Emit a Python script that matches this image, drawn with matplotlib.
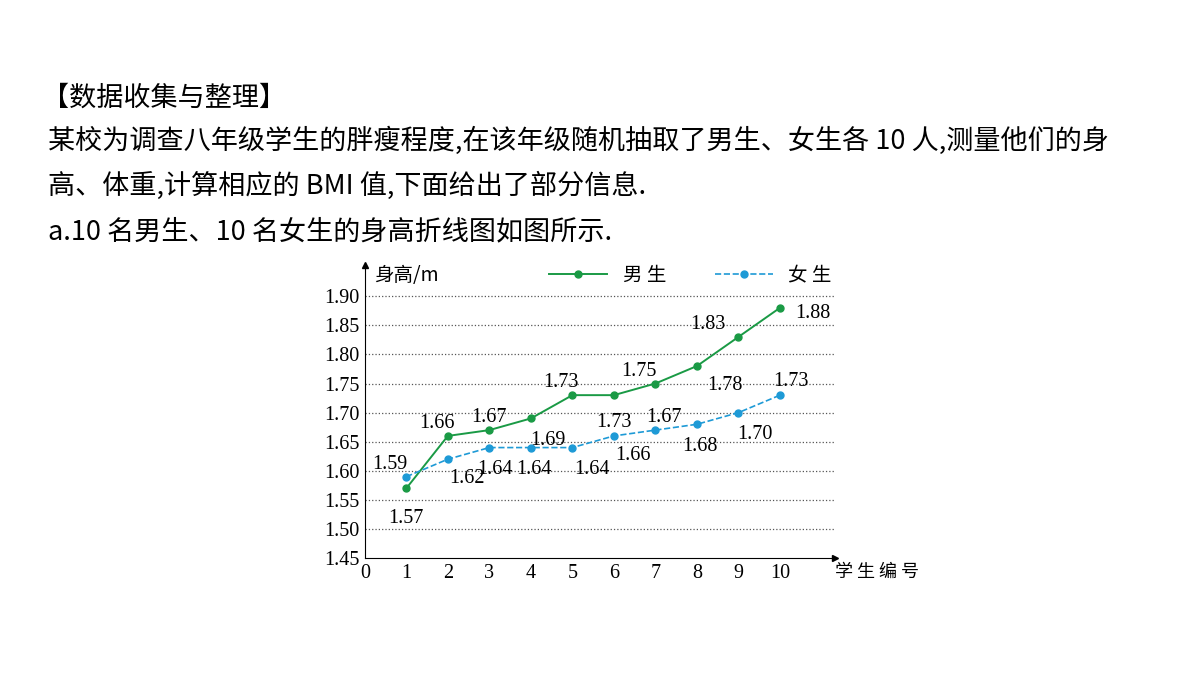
import matplotlib.pyplot as plt

plt.rcParams['font.family'] = ['Noto Sans CJK SC', 'DejaVu Sans']

students = list(range(1, 11))
boys = [1.57, 1.66, 1.67, 1.69, 1.73, 1.73, 1.75, 1.78, 1.83, 1.88]
girls = [1.59, 1.62, 1.64, 1.64, 1.64, 1.66, 1.67, 1.68, 1.70, 1.73]
yticks = [1.45, 1.50, 1.55, 1.60, 1.65, 1.70, 1.75, 1.80, 1.85, 1.90]

# label offsets (points) for each value
boy_off = [(0, -22), (-8, 9), (0, 9), (12, -16), (-8, 9), (0, -20), (-12, 9), (20, -14), (-22, 9), (24, -4)]
girl_off = [(-12, 9), (14, -14), (4, -16), (2, -16), (14, -16), (14, -14), (6, 9), (2, -16), (12, -16), (8, 10)]

GREEN = "#1a9a45"
BLUE = "#1e9ad6"
NUMFONT = ['Liberation Serif', 'DejaVu Serif']

fig = plt.figure(figsize=(12, 6.75), dpi=100)

lines = [
    (0.035, 0.855, "【数据收集与整理】"),
    (0.040, 0.792, "某校为调查八年级学生的胖瘦程度,在该年级随机抽取了男生、女生各 10 人,测量他们的身"),
    (0.040, 0.725, "高、体重,计算相应的 BMI 值,下面给出了部分信息."),
    (0.040, 0.656, "a.10 名男生、10 名女生的身高折线图如图所示."),
]
for x, y, t in lines:
    fig.text(x, y, t, fontsize=19.5, va="center")

ax = fig.add_axes([0.304, 0.173, 0.392, 0.434])
ax.set_xlim(0, 11.33)
ax.set_ylim(1.45, 1.953)

for v in yticks[1:]:
    ax.axhline(v, color="#555555", linestyle=":", linewidth=0.9, zorder=0)

hb, = ax.plot(students, boys, color=GREEN, marker="o", markersize=5, linewidth=1.4)
hg, = ax.plot(students, girls, color=BLUE, marker="o", markersize=5, linewidth=1.2, linestyle="--")

for x, v, o in zip(students, boys, boy_off):
    ax.annotate(f"{v:.2f}", (x, v), xytext=o, textcoords="offset points",
                ha="center", va="center", fontsize=14.5, family=NUMFONT)
for x, v, o in zip(students, girls, girl_off):
    ax.annotate(f"{v:.2f}", (x, v), xytext=o, textcoords="offset points",
                ha="center", va="center", fontsize=14.5, family=NUMFONT)

for s in ["top", "right"]:
    ax.spines[s].set_visible(False)
ax.plot(1, 0, ">k", transform=ax.transAxes, clip_on=False, markersize=5)
ax.plot(0, 1, "^k", transform=ax.transAxes, clip_on=False, markersize=5)

ax.set_xticks(range(0, 11))
ax.set_xticklabels([str(i) for i in range(0, 11)], family=NUMFONT, fontsize=14.5)
ax.set_yticks(yticks)
ax.set_yticklabels([f"{v:.2f}" for v in yticks], family=NUMFONT, fontsize=14.5)
ax.tick_params(length=0, pad=4)

ax.text(0.02, 1.0, "身高/m", transform=ax.transAxes, fontsize=14, va="top")
ax.text(1.0, -0.045, "学 生 编 号", transform=ax.transAxes, fontsize=13, va="center")

ax.legend([hb, hg], ["男 生", "女 生"], loc="upper right", bbox_to_anchor=(1.03, 1.06), ncol=2,
          frameon=False, fontsize=14, handlelength=3, columnspacing=2.5)

fig.savefig("out.png", dpi=100)
